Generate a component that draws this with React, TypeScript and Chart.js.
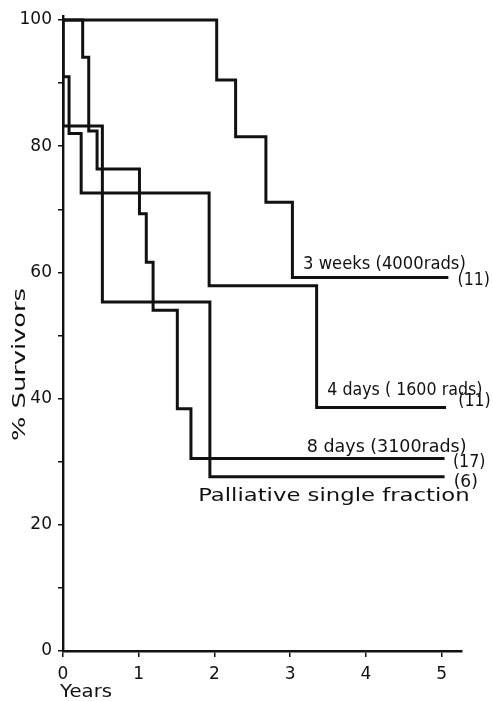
import React, { useEffect, useRef } from "react";
import { Chart, registerables } from "chart.js";

Chart.register(...registerables);

// ---- Data ----
const yearTicks = [0, 1, 2, 3, 4, 5];
const survivorTicks = [0, 10, 20, 30, 40, 50, 60, 70, 80, 90, 100];

const threeWeeksYears = [0, 2.03, 2.28, 2.68, 3.03, 5.07];
const threeWeeksSurvival = [100, 90.5, 81.5, 71.1, 59.2, 59.2];

const fourDaysYears = [0, 0, 0.08, 0.24, 1.93, 3.35, 5.04];
const fourDaysSurvival = [100, 91.0, 82.0, 72.6, 57.9, 38.6, 38.6];

const eightDaysYears = [0, 0.26, 0.34, 0.45, 1.01, 1.1, 1.19, 1.51, 1.69, 5.02];
const eightDaysSurvival = [100, 94.1, 82.4, 76.4, 69.3, 61.6, 54.0, 38.4, 30.5, 30.5];

const palliativeYears = [0, 0, 0.52, 1.94, 5.02];
const palliativeSurvival = [100, 83.2, 55.3, 27.6, 27.6];

const seriesNames = [
  "3 weeks (4000rads)",
  "4 days ( 1600 rads)",
  "8 days (3100rads)",
  "Palliative single fraction",
];
const seriesCounts = ["(11)", "(11)", "(17)", "(6)"];

const yTitle = "% Survivors";
const xTitle = "Years";

const FONT = '"DejaVu Sans"';
const INK = "#111";

function toPoints(xs: number[], ys: number[]) {
  return xs.map((x, i) => ({ x, y: ys[i] }));
}

// draws text stretched horizontally so that it spans [left, right]
function fitText(
  ctx: CanvasRenderingContext2D,
  text: string,
  left: number,
  right: number,
  baseline: number,
  minScale = 0
) {
  ctx.textAlign = "left";
  ctx.textBaseline = "alphabetic";
  const w = ctx.measureText(text).width;
  const sx = Math.max(minScale, w > 0 ? (right - left) / w : 1);
  ctx.save();
  ctx.translate(right - w * sx, baseline);
  ctx.scale(sx, 1);
  ctx.fillText(text, 0, 0);
  ctx.restore();
}

const labelPlugin = {
  id: "kmLabels",
  afterDraw(chart: any) {
    const ctx: CanvasRenderingContext2D = chart.ctx;
    const xs = chart.scales.x;
    const ys = chart.scales.y;
    const X = (v: number) => xs.getPixelForValue(v);
    const Y = (v: number) => ys.getPixelForValue(v);
    ctx.save();
    ctx.fillStyle = INK;
    ctx.font = `18px ${FONT}`;

    // series names (data-space anchors: left, right, baseline)
    fitText(ctx, seriesNames[0], X(3.17), X(5.32), Y(60.6));
    fitText(ctx, seriesNames[1], X(3.49), X(5.54), Y(40.5));
    fitText(ctx, seriesNames[2], X(3.22), X(5.33), Y(31.6));
    fitText(ctx, seriesNames[3], X(1.785), X(5.37), Y(23.7));

    // counts (data-space anchors: left, right, baseline)
    const countPos = [
      [5.28, 5.64, 58.0],
      [5.295, 5.65, 38.9],
      [5.15, 5.58, 29.1],
      [5.16, 5.48, 26.0],
    ];
    seriesCounts.forEach((c, i) => {
      const [l, r, b] = countPos[i];
      fitText(ctx, c, X(l), X(r), Y(b), 0.88);
    });

    // x title
    fitText(ctx, xTitle, 60, 112, 697);

    // y title, rotated
    ctx.save();
    ctx.translate(25, 441);
    ctx.rotate(-Math.PI / 2);
    fitText(ctx, yTitle, 0, 153, 0);
    ctx.restore();

    ctx.restore();
  },
};

export default function App() {
  const canvasRef = useRef<HTMLCanvasElement | null>(null);

  useEffect(() => {
    const canvas = canvasRef.current;
    if (!canvas) return;
    const mk = (xs: number[], ys: number[]) => ({
      data: toPoints(xs, ys),
      borderColor: INK,
      borderWidth: 3,
      stepped: true as const,
      fill: false,
      pointRadius: 0,
      tension: 0,
      borderCapStyle: "square" as const,
      borderJoinStyle: "miter" as const,
    });
    const chart = new Chart(canvas, {
      type: "line",
      data: {
        datasets: [
          mk(threeWeeksYears, threeWeeksSurvival),
          mk(fourDaysYears, fourDaysSurvival),
          mk(eightDaysYears, eightDaysSurvival),
          mk(palliativeYears, palliativeSurvival),
        ],
      },
      options: {
        animation: false,
        responsive: false,
        devicePixelRatio: 1,
        layout: { padding: { top: 15, right: 31, left: 0, bottom: 0 } },
        plugins: {
          legend: { display: false },
          tooltip: { enabled: false },
        },
        scales: {
          x: {
            type: "linear",
            min: 0,
            max: 5.27,
            afterBuildTicks: (s: any) => {
              s.ticks = yearTicks.map((v) => ({ value: v }));
            },
            afterFit: (s: any) => {
              s.height = 50;
            },
            grid: {
              drawOnChartArea: false,
              drawTicks: true,
              tickLength: 6,
              color: INK,
              lineWidth: 1.5,
            },
            border: { display: true, color: INK, width: 2.4 },
            ticks: {
              color: INK,
              font: { family: FONT, size: 17 },
              padding: 7,
              maxRotation: 0,
              autoSkip: false,
              callback: (v: any) => String(v),
            },
          },
          y: {
            type: "linear",
            min: 0,
            max: 100.6,
            afterBuildTicks: (s: any) => {
              s.ticks = survivorTicks.map((v) => ({ value: v }));
            },
            afterFit: (s: any) => {
              s.width = 63;
            },
            grid: {
              drawOnChartArea: false,
              drawTicks: true,
              tickLength: 5,
              color: INK,
              lineWidth: 1.5,
            },
            border: { display: true, color: INK, width: 2.4 },
            ticks: {
              color: INK,
              font: { family: FONT, size: 17 },
              padding: 6,
              autoSkip: false,
              callback: (v: any) => (Number(v) % 20 === 0 ? String(v) : ""),
            },
          },
        },
      },
      plugins: [labelPlugin],
    });
    return () => chart.destroy();
  }, []);

  return (
    <div
      style={{
        position: "fixed",
        left: 0,
        top: 0,
        width: 493,
        height: 701,
        background: "#fff",
      }}
    >
      <canvas
        ref={canvasRef}
        width={493}
        height={701}
        style={{ display: "block", width: 493, height: 701 }}
      />
    </div>
  );
}
